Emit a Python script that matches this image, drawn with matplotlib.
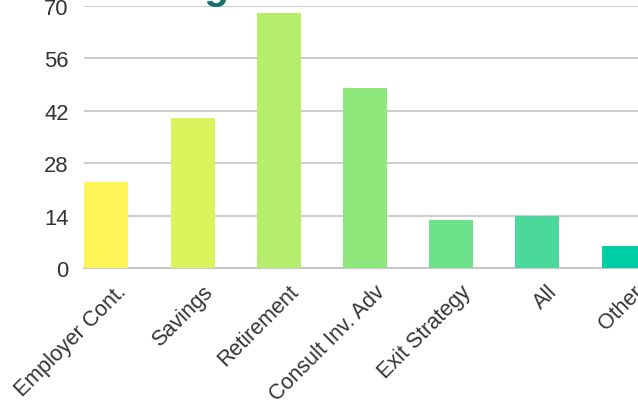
import matplotlib
matplotlib.use("Agg")
import matplotlib.pyplot as plt
import matplotlib.transforms as mtransforms

# data
categories = ["Employer Cont.", "Savings", "Retirement", "Consult Inv. Adv",
              "Exit Strategy", "All", "Other"]
values = [23, 40, 68, 48, 13, 14, 6]
bar_colors = ["#FFF455", "#DCF45C", "#B5EE6C", "#8FE87B",
              "#6CE38A", "#4AD99A", "#00CFA6"]
y_ticks = [0, 14, 28, 42, 56, 70]

plt.rcParams['font.family'] = ['Liberation Sans', 'DejaVu Sans']

W, H = 638, 406
fig = plt.figure(figsize=(W / 100, H / 100), dpi=100)
ax = fig.add_axes([84 / W, 1 - 269.3 / H, (W - 84) / W, (269.3 - 6.7) / H])

x = list(range(len(categories)))
ax.bar(x, values, width=0.51, color=bar_colors, zorder=3)

ax.set_xlim(-0.259, 6.168)
ax.set_ylim(0, 70)
ax.set_yticks(y_ticks)
ax.set_yticklabels([str(v) for v in y_ticks], fontsize=15.8, color="#333333")
ax.tick_params(axis='y', length=0, pad=11)
ax.tick_params(axis='x', length=0)
ax.grid(axis='y', color="#c8c8c8", linewidth=1.3, zorder=0)
for side in ["top", "right", "left"]:
    ax.spines[side].set_visible(False)
ax.spines["bottom"].set_color("#c8c8c8")
ax.spines["bottom"].set_linewidth(1.5)

ax.set_xticks(x)
ax.set_xticklabels(categories, rotation=45, ha='right', va='center',
                   rotation_mode='anchor', fontsize=15.5, color="#333333")
offset = mtransforms.ScaledTranslation(17 / 100, -15 / 100, fig.dpi_scale_trans)
for lbl in ax.get_xticklabels():
    lbl.set_transform(lbl.get_transform() + offset)

# title, mostly cut off above the canvas
fig.text(229 / W, 1 + 1 / H, "Planning", ha='right', va='baseline',
         fontsize=29, fontweight='bold', color="#136F6F")

fig.savefig("out.png", dpi=100)
